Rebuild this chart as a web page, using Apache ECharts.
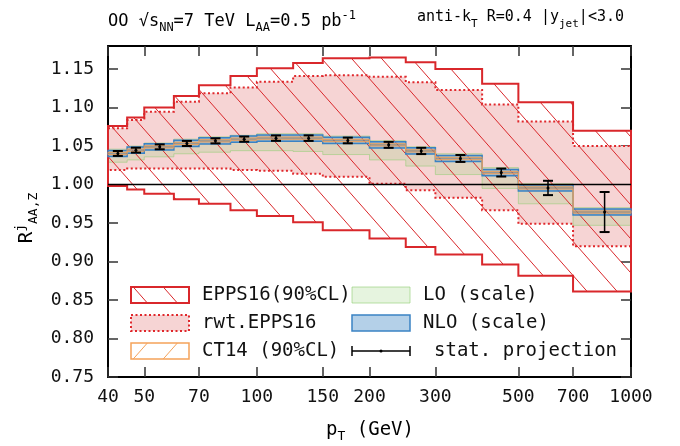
<!DOCTYPE html>
<html>
<head>
<meta charset="utf-8">
<script src="https://cdn.jsdelivr.net/npm/echarts@6/dist/echarts.min.js"></script>
<style>
  html, body { margin: 0; padding: 0; background: #fff; }
  #chart { width: 680px; height: 446px; }
</style>
</head>
<body>
<div id="chart"></div>
<script>
// bins in pT (GeV)
const binEdges = [40, 45, 50, 60, 70, 85, 100, 125, 150, 200, 250, 300, 400, 500, 700, 1000];
const ptPoints = [42.5, 47.5, 55, 65, 77.5, 92.5, 112.5, 137.5, 175, 225, 275, 350, 450, 600, 850];

// EPPS16 (90%CL)
const eppsUp  = [1.076, 1.087, 1.100, 1.115, 1.129, 1.141, 1.151, 1.158, 1.164, 1.165, 1.159, 1.150, 1.131, 1.107, 1.070];
const eppsLow = [0.998, 0.9935, 0.988, 0.981, 0.975, 0.9665, 0.959, 0.951, 0.9405, 0.930, 0.919, 0.909, 0.896, 0.8815, 0.861];
// rwt.EPPS16
const rwtUp  = [1.073, 1.084, 1.0945, 1.1075, 1.1185, 1.126, 1.1335, 1.141, 1.142, 1.140, 1.133, 1.123, 1.104, 1.082, 1.050];
const rwtLow = [1.019, 1.021, 1.021, 1.021, 1.021, 1.019, 1.018, 1.014, 1.010, 1.001, 0.9925, 0.983, 0.9665, 0.949, 0.920];
// LO (scale)
const loUp  = [1.046, 1.050, 1.054, 1.059, 1.062, 1.064, 1.066, 1.066, 1.063, 1.057, 1.049, 1.040, 1.022, 1.001, 0.970];
const loLow = [1.029, 1.032, 1.036, 1.040, 1.042, 1.044, 1.044, 1.043, 1.039, 1.032, 1.024, 1.013, 0.995, 0.975, 0.947];
// NLO (scale)
const nloCentral = [1.0404, 1.0447, 1.049, 1.0534, 1.0568, 1.059, 1.0603, 1.0603, 1.0573, 1.0516, 1.0437, 1.0339, 1.0156, 0.9956, 0.9643];
const nloUp  = [1.0444, 1.0487, 1.053, 1.0574, 1.0608, 1.063, 1.0643, 1.0643, 1.0613, 1.0556, 1.0477, 1.0379, 1.0196, 0.9996, 0.9683];
const nloLow = [1.0364, 1.0407, 1.045, 1.0494, 1.0528, 1.055, 1.0563, 1.0563, 1.0533, 1.0476, 1.0397, 1.0299, 1.0116, 0.9916, 0.9603];
// CT14 (90%CL)
const ct14Up  = [1.0419, 1.0462, 1.0505, 1.0549, 1.0583, 1.0605, 1.0618, 1.0618, 1.0588, 1.0531, 1.0452, 1.0354, 1.0171, 0.9971, 0.9658];
const ct14Low = [1.0389, 1.0432, 1.0475, 1.0519, 1.0553, 1.0575, 1.0588, 1.0588, 1.0558, 1.0501, 1.0422, 1.0324, 1.0141, 0.9941, 0.9628];
// stat. projection
const statErr = [0.0032, 0.0032, 0.0032, 0.0033, 0.0033, 0.0034, 0.0035, 0.0036, 0.0037, 0.0039, 0.0041, 0.0045, 0.0052, 0.0093, 0.026];

const xTicks = [40, 50, 70, 100, 150, 200, 300, 500, 700, 1000];
const yTicks = [0.75, 0.80, 0.85, 0.90, 0.95, 1.00, 1.05, 1.10, 1.15];

const FONT = '"DejaVu Sans Mono", monospace';
const lg = v => Math.log10(v);
const RED = '#d9272b';

// diagonal hatch tile
function hatch(color, back) {
  const w = 30, h = 34;
  const c = document.createElement('canvas');
  c.width = w; c.height = h;
  const ctx = c.getContext('2d');
  ctx.strokeStyle = color;
  ctx.lineWidth = 1;
  ctx.beginPath();
  for (const o of [-w, 0, w]) {
    if (back) { ctx.moveTo(o, 0); ctx.lineTo(o + w, h); }
    else { ctx.moveTo(o + w, 0); ctx.lineTo(o, h); }
  }
  ctx.stroke();
  return { image: c, repeat: 'repeat' };
}
const eppsHatch = hatch(RED, true);
const ctHatch = hatch('#f5a25a', false);

function band(up, low, style, z) {
  return {
    type: 'custom', z: z, silent: true,
    data: [[lg(40), 1]],
    renderItem: (params, api) => {
      const pts = [];
      for (let i = 0; i < up.length; i++) {
        pts.push(api.coord([lg(binEdges[i]), up[i]]));
        pts.push(api.coord([lg(binEdges[i + 1]), up[i]]));
      }
      for (let i = low.length - 1; i >= 0; i--) {
        pts.push(api.coord([lg(binEdges[i + 1]), low[i]]));
        pts.push(api.coord([lg(binEdges[i]), low[i]]));
      }
      return { type: 'polygon', shape: { points: pts }, style: style };
    }
  };
}

const chart = echarts.init(document.getElementById('chart'));

const axisCommon = {
  type: 'value',
  axisLine: { show: true, onZero: false, lineStyle: { color: '#000', width: 2 } },
  splitLine: { show: false }
};

const txt = { fontFamily: FONT, fill: '#111', fontSize: 19, verticalAlign: 'middle' };

const option = {
  animation: false,
  grid: { left: 108, right: 49, top: 46, bottom: 69, outerBoundsMode: 'none' },
  xAxis: [
    Object.assign({}, axisCommon, {
      min: lg(40), max: lg(1000), position: 'bottom',
      axisTick: { show: true, inside: true, length: 10, customValues: xTicks.map(lg), lineStyle: { color: '#333', width: 1.5 } },
      axisLabel: {
        show: true, customValues: xTicks.map(lg), margin: 11,
        formatter: v => String(Math.round(Math.pow(10, v))),
        fontFamily: FONT, fontSize: 18, color: '#111'
      }
    }),
    Object.assign({}, axisCommon, {
      min: lg(40), max: lg(1000), position: 'top',
      axisTick: { show: true, inside: true, length: 10, customValues: xTicks.map(lg), lineStyle: { color: '#333', width: 1.5 } },
      axisLabel: { show: false }
    })
  ],
  yAxis: [
    Object.assign({}, axisCommon, {
      min: 0.75, max: 1.18, position: 'left',
      axisTick: { show: true, inside: true, length: 10, customValues: yTicks, lineStyle: { color: '#333', width: 1.5 } },
      axisLabel: {
        show: true, customValues: yTicks, margin: 14,
        formatter: v => v.toFixed(2),
        fontFamily: FONT, fontSize: 18, color: '#111'
      }
    }),
    Object.assign({}, axisCommon, {
      min: 0.75, max: 1.18, position: 'right',
      axisTick: { show: true, inside: true, length: 10, customValues: yTicks, lineStyle: { color: '#333', width: 1.5 } },
      axisLabel: { show: false }
    })
  ],
  series: [
    band(rwtUp, rwtLow, { fill: '#f6d4d4', stroke: '#e0282c', lineWidth: 2, lineDash: [2, 2.5] }, 1),
    band(loUp, loLow, { fill: 'rgba(150,210,120,0.24)', stroke: 'rgba(140,205,110,0.5)', lineWidth: 1 }, 2),
    band(eppsUp, eppsLow, { fill: eppsHatch, stroke: RED, lineWidth: 2 }, 3),
    band(nloUp, nloLow, { fill: 'rgba(70,140,205,0.35)', stroke: '#3a82c4', lineWidth: 1.5 }, 4),
    band(ct14Up, ct14Low, { fill: 'rgba(120,110,100,0.45)', stroke: 'rgba(240,160,90,0.9)', lineWidth: 1 }, 5),
    {
      type: 'line', z: 6, silent: true, symbol: 'none',
      data: [[lg(40), 1], [lg(1000), 1]],
      lineStyle: { color: '#000', width: 1.5 }
    },
    {
      type: 'custom', z: 7, silent: true,
      data: ptPoints.map((p, i) => [lg(p), nloCentral[i], statErr[i]]),
      renderItem: (params, api) => {
        const x = api.value(0), y = api.value(1), e = api.value(2);
        const t = api.coord([x, y + e]), b = api.coord([x, y - e]), m = api.coord([x, y]);
        const hw = 5;
        const ln = (x1, y1, x2, y2, w) => ({ type: 'line', shape: { x1, y1, x2, y2 }, style: { stroke: '#000', lineWidth: w } });
        return {
          type: 'group', children: [
            ln(t[0], t[1], b[0], b[1], 1.5),
            ln(t[0] - hw, t[1], t[0] + hw, t[1], 2),
            ln(b[0] - hw, b[1], b[0] + hw, b[1], 2),
            { type: 'circle', shape: { cx: m[0], cy: m[1], r: 1.5 }, style: { fill: '#000' } }
          ]
        };
      }
    }
  ],
  graphic: [
    // titles
    {
      type: 'text', left: 108, top: 10, z: 20,
      style: {
        text: '{a|OO √s}{s|NN}{a|=7 TeV L}{s|AA}{a|=0.5 pb}{p|-1}',
        rich: {
          a: { fontFamily: FONT, fontSize: 17, lineHeight: 24, verticalAlign: 'middle', color: '#111' },
          s: { fontFamily: FONT, fontSize: 12, lineHeight: 12, verticalAlign: 'bottom', color: '#111' },
          p: { fontFamily: FONT, fontSize: 12, lineHeight: 12, verticalAlign: 'top', color: '#111' }
        }
      }
    },
    {
      type: 'text', right: 56, top: 10, z: 20,
      style: {
        text: '{a|anti-k}{s|T}{a| R=0.4 |y}{s|jet}{a||<3.0}',
        rich: {
          a: { fontFamily: FONT, fontSize: 15, lineHeight: 24, verticalAlign: 'middle', color: '#111' },
          s: { fontFamily: FONT, fontSize: 11, lineHeight: 11, verticalAlign: 'bottom', color: '#111' }
        }
      }
    },
    // axis names
    {
      type: 'text', x: 27, y: 218, rotation: Math.PI / 2, z: 20,
      style: {
        text: '{a|R}{p|j}{s|AA,Z}', align: 'center', verticalAlign: 'middle',
        rich: {
          a: { fontFamily: FONT, fontSize: 19, lineHeight: 26, verticalAlign: 'middle', color: '#111' },
          p: { fontFamily: FONT, fontSize: 13, lineHeight: 13, verticalAlign: 'top', color: '#111' },
          s: { fontFamily: FONT, fontSize: 13, lineHeight: 13, verticalAlign: 'bottom', color: '#111' }
        }
      }
    },
    {
      type: 'text', x: 370, y: 430, z: 20,
      style: {
        text: '{a|p}{s|T}{a| (GeV)}', align: 'center', verticalAlign: 'middle',
        rich: {
          a: { fontFamily: FONT, fontSize: 19, lineHeight: 26, verticalAlign: 'middle', color: '#111' },
          s: { fontFamily: FONT, fontSize: 13, lineHeight: 13, verticalAlign: 'bottom', color: '#111' }
        }
      }
    },
    // legend swatches
    { type: 'rect', z: 20, shape: { x: 131, y: 287, width: 58, height: 16 }, style: { fill: eppsHatch, stroke: RED, lineWidth: 2 } },
    { type: 'rect', z: 20, shape: { x: 131, y: 315, width: 58, height: 16 }, style: { fill: '#f6d4d4', stroke: '#e0282c', lineWidth: 2, lineDash: [2, 2.5] } },
    { type: 'rect', z: 20, shape: { x: 131, y: 343, width: 58, height: 16 }, style: { fill: ctHatch, stroke: '#f5a25a', lineWidth: 1.5 } },
    { type: 'rect', z: 20, shape: { x: 352, y: 287, width: 58, height: 16 }, style: { fill: 'rgba(150,210,120,0.24)', stroke: 'rgba(140,205,110,0.6)', lineWidth: 1 } },
    { type: 'rect', z: 20, shape: { x: 352, y: 315, width: 58, height: 16 }, style: { fill: '#b4d0e8', stroke: '#3a82c4', lineWidth: 1.5 } },
    { type: 'line', z: 20, shape: { x1: 352, y1: 351, x2: 410, y2: 351 }, style: { stroke: '#000', lineWidth: 1.5 } },
    { type: 'line', z: 20, shape: { x1: 352, y1: 346, x2: 352, y2: 356 }, style: { stroke: '#000', lineWidth: 1.5 } },
    { type: 'line', z: 20, shape: { x1: 410, y1: 346, x2: 410, y2: 356 }, style: { stroke: '#000', lineWidth: 1.5 } },
    { type: 'circle', z: 20, shape: { cx: 381, cy: 351, r: 1.5 }, style: { fill: '#000' } },
    // legend texts
    { type: 'text', z: 20, x: 202, y: 295, style: Object.assign({ text: 'EPPS16(90%CL)' }, txt) },
    { type: 'text', z: 20, x: 202, y: 323, style: Object.assign({ text: 'rwt.EPPS16' }, txt) },
    { type: 'text', z: 20, x: 202, y: 351, style: Object.assign({ text: 'CT14 (90%CL)' }, txt) },
    { type: 'text', z: 20, x: 423, y: 295, style: Object.assign({ text: 'LO (scale)' }, txt) },
    { type: 'text', z: 20, x: 423, y: 323, style: Object.assign({ text: 'NLO (scale)' }, txt) },
    { type: 'text', z: 20, x: 434, y: 351, style: Object.assign({ text: 'stat. projection' }, txt) }
  ]
};

chart.setOption(option);
</script>
</body>
</html>
